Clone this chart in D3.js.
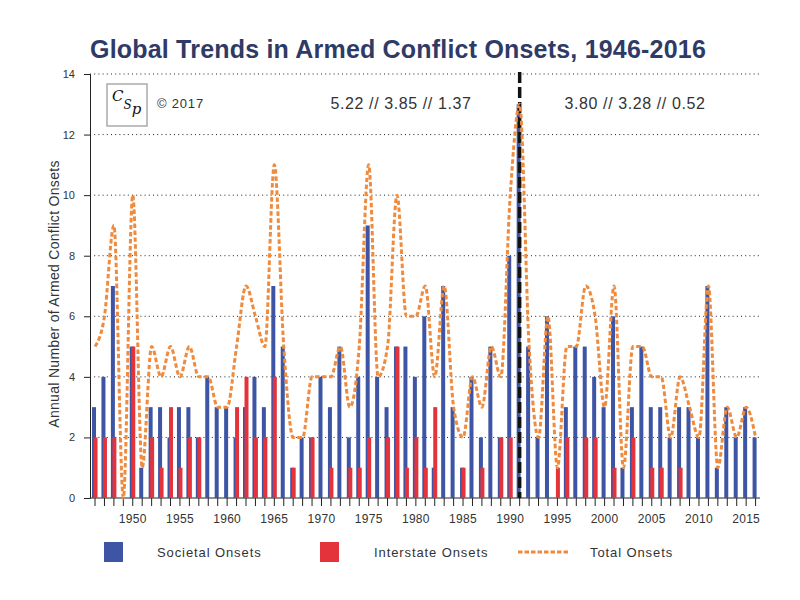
<!DOCTYPE html>
<html><head><meta charset="utf-8">
<script src="https://cdn.jsdelivr.net/npm/d3@7"></script>
<style>
body{margin:0;background:#fff}
svg{display:block}
text{font-family:"Liberation Sans",Arial,sans-serif}
</style>
</head><body>
<svg id="chart" width="800" height="600"></svg>
<script>
// ---- data ----
const years = [1946,1947,1948,1949,1950,1951,1952,1953,1954,1955,1956,1957,1958,1959,1960,
  1961,1962,1963,1964,1965,1966,1967,1968,1969,1970,1971,1972,1973,1974,1975,
  1976,1977,1978,1979,1980,1981,1982,1983,1984,1985,1986,1987,1988,1989,1990,
  1991,1992,1993,1994,1995,1996,1997,1998,1999,2000,2001,2002,2003,2004,2005,
  2006,2007,2008,2009,2010,2011,2012,2013,2014,2015,2016];
const societal = [3,4,7,0,5,1,3,3,2,3,3,2,4,3,3,
  2,3,4,3,7,5,1,2,2,4,3,5,2,4,9,
  4,3,5,5,4,6,1,7,3,1,4,2,5,2,8,
  13,5,2,6,0,3,5,5,4,3,6,1,3,5,3,
  3,2,3,3,2,7,1,3,2,3,2];
const interstate = [2,2,2,0,5,0,2,1,3,1,2,2,0,0,0,
  3,4,2,2,4,0,1,0,2,0,1,0,1,1,2,
  0,2,5,1,2,1,3,0,0,1,0,1,0,2,2,
  0,0,0,0,1,2,0,2,2,0,1,0,2,0,1,
  1,0,1,0,0,0,0,0,0,0,0];
const total = [5,6,9,0,10,1,5,4,5,4,5,4,4,3,3,
  5,7,6,5,11,5,2,2,4,4,4,5,3,5,11,
  4,5,10,6,6,7,4,7,3,2,4,3,5,4,10,
  13,5,2,6,1,5,5,7,6,3,7,1,5,5,4,
  4,2,4,3,2,7,1,3,2,3,2];
const yTicks = [0,2,4,6,8,10,12,14];
const xLabelYears = [1950,1955,1960,1965,1970,1975,1980,1985,1990,1995,2000,2005,2010,2015];
const periodStats = ["5.22 // 3.85 // 1.37", "3.80 // 3.28 // 0.52"];
const dividerYear = 1991;
const legendItems = ["Societal Onsets", "Interstate Onsets", "Total Onsets"];
const titleText = "Global Trends in Armed Conflict Onsets, 1946-2016";
const yTitle = "Annual Number of Armed Conflict Onsets";

// ---- styles ----
const BLUE = "#3E55A5", RED = "#E5333B", ORANGE = "#EE8B3E", TXT = "#333";

const svg = d3.select("#chart");
const x = d3.scaleBand().domain(years).range([90.3, 760.3]).padding(0);
const xc = d => x(d) + x.bandwidth() / 2;
const y = d3.scaleLinear().domain([0, 14]).range([498, 74]);

// title
svg.append("text").attr("x", 398).attr("y", 58).attr("text-anchor", "middle")
  .attr("font-size", 25).attr("font-weight", "bold").attr("fill", "#2F3B66")
  .attr("letter-spacing", 0.2).text(titleText);

// gridlines
svg.append("g").selectAll("line").data(yTicks.filter(v => v > 0)).join("line")
  .attr("x1", 90).attr("x2", 760).attr("y1", d => y(d)).attr("y2", d => y(d))
  .attr("stroke", "#222").attr("stroke-width", 1).attr("stroke-dasharray", "1,3.2");

// y axis
const yAxis = d3.axisLeft(y).tickValues(yTicks).tickSize(6).tickPadding(9);
const gy = svg.append("g").attr("transform", "translate(90,0)").call(yAxis);
gy.select(".domain").attr("stroke", "#222");
gy.selectAll(".tick line").attr("stroke", "#222");
gy.selectAll("text").attr("font-size", 11).attr("fill", TXT)
  .style("font-family", '"Liberation Sans",Arial,sans-serif');

// x axis
const xAxis = d3.axisBottom(x).tickSize(8).tickPadding(8)
  .tickFormat(d => xLabelYears.includes(d) ? d : "");
const gx = svg.append("g").attr("transform", "translate(0,498)").call(xAxis);
gx.select(".domain").attr("stroke", "#222").attr("d", "M90,0H760");
gx.selectAll(".tick line").attr("stroke", "#222");
gx.selectAll("text").attr("font-size", 12).attr("fill", TXT).attr("letter-spacing", 0.3)
  .style("font-family", '"Liberation Sans",Arial,sans-serif');

// y title
svg.append("text").attr("transform", "translate(59,294) rotate(-90)")
  .attr("text-anchor", "middle").attr("font-size", 14).attr("letter-spacing", 0.3)
  .attr("fill", TXT).text(yTitle);

// bars
svg.append("g").selectAll("rect").data(years).join("rect")
  .attr("x", d => xc(d) - 3).attr("width", 4)
  .attr("y", (d, i) => y(societal[i])).attr("height", (d, i) => y(0) - y(societal[i]))
  .attr("fill", BLUE);
svg.append("g").selectAll("rect").data(years).join("rect")
  .attr("x", d => xc(d) - 1.5).attr("width", 4)
  .attr("y", (d, i) => y(interstate[i])).attr("height", (d, i) => y(0) - y(interstate[i]))
  .attr("fill", RED);

// divider
svg.append("line").attr("x1", xc(dividerYear)).attr("x2", xc(dividerYear))
  .attr("y1", 72).attr("y2", 498).attr("stroke", "#111").attr("stroke-width", 3.5)
  .attr("stroke-dasharray", "11,4");

// total line
const line = d3.line().x((d, i) => xc(years[i])).y(d => y(d)).curve(d3.curveMonotoneX);
svg.append("path").datum(total).attr("d", line).attr("fill", "none")
  .attr("stroke", ORANGE).attr("stroke-width", 3).attr("stroke-dasharray", "4.5,2.5");

// period stats
svg.append("text").attr("x", 401).attr("y", 109).attr("text-anchor", "middle")
  .attr("font-size", 16).attr("letter-spacing", 0.6).attr("fill", TXT).text(periodStats[0]);
svg.append("text").attr("x", 635).attr("y", 109).attr("text-anchor", "middle")
  .attr("font-size", 16).attr("letter-spacing", 0.6).attr("fill", TXT).text(periodStats[1]);

// logo (single text element with staggered letters, no horizontal overlap)
const logo = svg.append("g");
logo.append("rect").attr("x", 107).attr("y", 84).attr("width", 40).attr("height", 42)
  .attr("fill", "#fff").attr("stroke", "#aaa").attr("stroke-width", 1.5);
const lt = logo.append("text").attr("x", 112).attr("y", 101).attr("font-size", 15)
  .style("font-family", '"DejaVu Serif",serif').attr("font-style", "italic").attr("fill", "#111");
lt.append("tspan").text("C");
lt.append("tspan").attr("dy", 8).attr("font-size", 12).text("S");
lt.append("tspan").attr("dy", 5).attr("font-size", 15).text("p");
svg.append("text").attr("x", 157).attr("y", 108).attr("font-size", 13).attr("letter-spacing", 0.8)
  .attr("fill", TXT).text("\u00A9 2017");

// legend
const lg = svg.append("g");
lg.append("rect").attr("x", 104).attr("y", 542).attr("width", 19).attr("height", 20).attr("fill", BLUE);
lg.append("text").attr("x", 157).attr("y", 557).attr("font-size", 13).attr("letter-spacing", 0.9)
  .attr("fill", TXT).text(legendItems[0]);
lg.append("rect").attr("x", 320).attr("y", 542).attr("width", 19).attr("height", 20).attr("fill", RED);
lg.append("text").attr("x", 374).attr("y", 557).attr("font-size", 13).attr("letter-spacing", 0.9)
  .attr("fill", TXT).text(legendItems[1]);
lg.append("line").attr("x1", 518).attr("x2", 569).attr("y1", 552).attr("y2", 552)
  .attr("stroke", ORANGE).attr("stroke-width", 3).attr("stroke-dasharray", "4.5,2");
lg.append("text").attr("x", 590).attr("y", 557).attr("font-size", 13).attr("letter-spacing", 0.9)
  .attr("fill", TXT).text(legendItems[2]);
</script>
</body></html>
